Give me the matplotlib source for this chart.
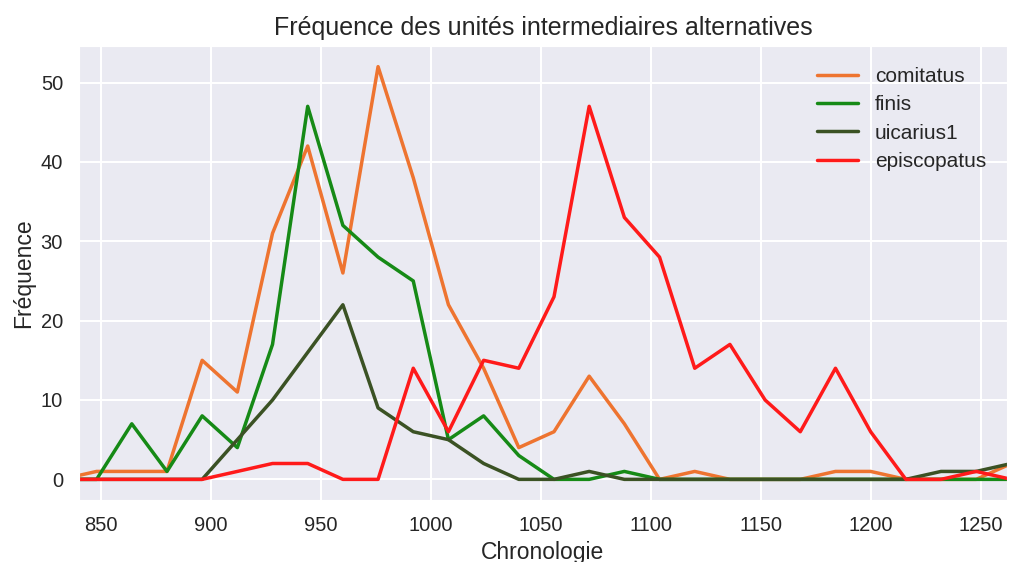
import numpy as np
import matplotlib
matplotlib.use("Agg")
import matplotlib.pyplot as plt
import seaborn as sns

# Chronologie (pas de 16 ans)
annees = list(range(832, 1265, 16))

comitatus = [0, 1, 1, 1, 15, 11, 31, 42, 26, 52, 38, 22, 14, 4, 6, 13, 7,
             0, 1, 0, 0, 0, 1, 1, 0, 0, 0, 2]
finis = [0, 0, 7, 1, 8, 4, 17, 47, 32, 28, 25, 5, 8, 3, 0, 0, 1,
         0, 0, 0, 0, 0, 0, 0, 0, 0, 0, 0]
uicarius1 = [0, 0, 0, 0, 0, 5, 10, 16, 22, 9, 6, 5, 2, 0, 0, 1, 0,
             0, 0, 0, 0, 0, 0, 0, 0, 1, 1, 2]
episcopatus = [0, 0, 0, 0, 0, 1, 2, 2, 0, 0, 14, 6, 15, 14, 23, 47, 33,
               28, 14, 17, 10, 6, 14, 6, 0, 0, 1, 0]

series = [
    ("comitatus", comitatus, "#ee7430"),
    ("finis", finis, "#168a16"),
    ("uicarius1", uicarius1, "#3b5224"),
    ("episcopatus", episcopatus, "#ff1a1a"),
]

sns.set_style("darkgrid")
plt.rcParams['font.family'] = ['Liberation Sans', 'DejaVu Sans']

fig = plt.figure(figsize=(10.1, 5.62), dpi=100)
ax = fig.add_axes([79 / 1010, 1 - 500 / 562, (1007 - 79) / 1010, (500 - 46) / 562])

for nom, valeurs, couleur in series:
    ax.plot(annees, valeurs, color=couleur, linewidth=2.5, label=nom)

ax.set_xlim(840, 1262)
ax.set_ylim(-2.6, 54.6)
ax.set_xticks(np.arange(850, 1251, 50))
ax.set_yticks(np.arange(0, 51, 10))
ax.tick_params(labelsize=14.5, colors=".15", pad=8)
ax.grid(color="white", linewidth=1.5)

ax.set_title("Fréquence des unités intermediaires alternatives", fontsize=18, color=".15", pad=8)
ax.set_xlabel("Chronologie", fontsize=16.5, color=".15", labelpad=4)
ax.set_ylabel("Fréquence", fontsize=16.5, color=".15", labelpad=4)

ax.legend(loc="upper right", fontsize=15, frameon=False, handlelength=2.0,
          labelspacing=0.45, borderaxespad=0.6)

fig.savefig("out.png", dpi=100)
